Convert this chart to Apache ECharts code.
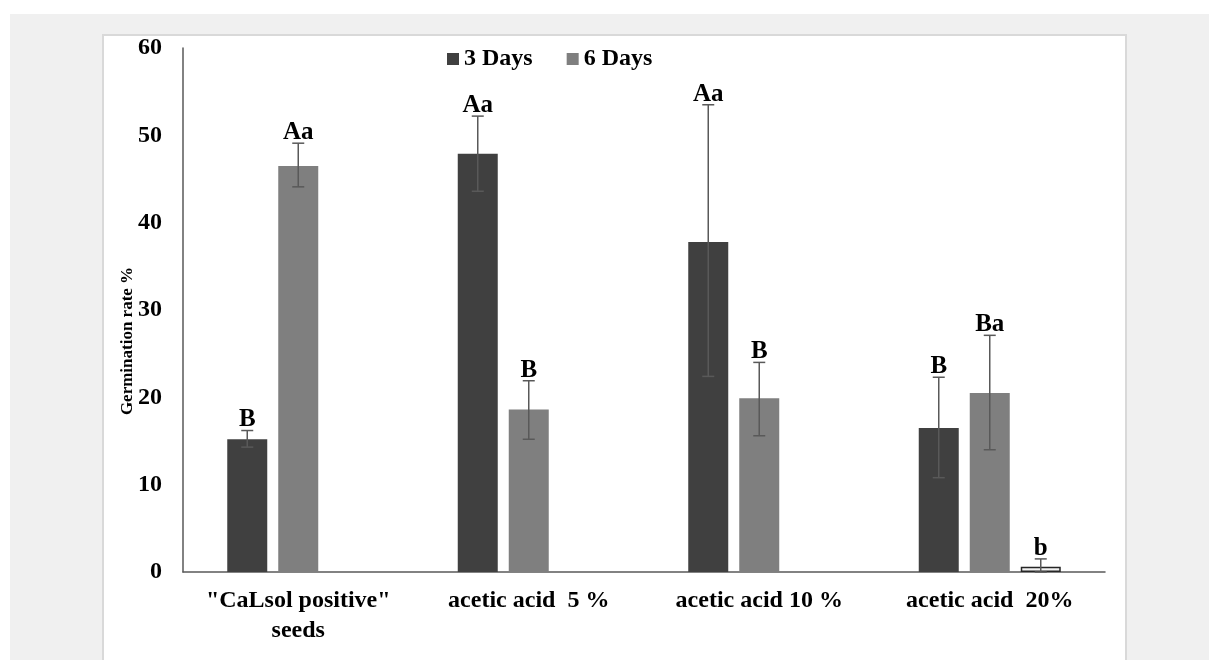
<!DOCTYPE html>
<html>
<head>
<meta charset="utf-8">
<script src="https://cdn.jsdelivr.net/npm/echarts@6/dist/echarts.min.js"></script>
<style>
  html, body { margin: 0; padding: 0; background: #fff; }
  #chart { width: 1209px; height: 660px; }
</style>
</head>
<body>
<div id="chart"></div>
<script>
// categories and values
const categories = ['"CaLsol positive"\nseeds', 'acetic acid  5 %', 'acetic acid 10 %', 'acetic acid  20%'];

const days3 = [15.2, 47.9, 37.8, 16.5];
const days3Low = [14.3, 43.6, 22.4, 10.8];
const days3High = [16.2, 52.2, 53.5, 22.3];
const days3Letters = ['B', 'Aa', 'Aa', 'B'];

const days6 = [46.5, 18.6, 19.9, 20.5];
const days6Low = [44.1, 15.2, 15.6, 14.0];
const days6High = [49.1, 21.9, 24.0, 27.1];
const days6Letters = ['Aa', 'B', 'B', 'Ba'];

// third (unnamed) series, only in the last group
const extra = [null, null, null, 0.6];
const extraLow = [null, null, null, 0];
const extraHigh = [null, null, null, 1.5];
const extraLetters = ['', '', '', 'b'];

const yMin = 0, yMax = 60, yStep = 10;

const FONT = 'Liberation Serif';
const BAR_W = 40, BAR_GAP = 11;

function errData(low, high) {
  const out = [];
  low.forEach((v, i) => {
    if (v !== null) out.push([i, v, high[i]]);
  });
  return out;
}

// error bars + significance letters, k = position of bar in the group
function errSeries(k, low, high, letters) {
  return {
    type: 'custom',
    silent: true,
    z: 5,
    data: errData(low, high),
    renderItem: function (params, api) {
      const ci = api.value(0);
      const lo = api.coord([ci, api.value(1)]);
      const hi = api.coord([ci, api.value(2)]);
      const x = lo[0] + (k - 1) * (BAR_W + BAR_GAP);
      const st = { stroke: '#595959', lineWidth: 1.5 };
      return {
        type: 'group',
        children: [
          { type: 'line', shape: { x1: x, y1: lo[1], x2: x, y2: hi[1] }, style: st },
          { type: 'line', shape: { x1: x - 6, y1: hi[1], x2: x + 6, y2: hi[1] }, style: st },
          { type: 'line', shape: { x1: x - 6, y1: lo[1], x2: x + 6, y2: lo[1] }, style: st },
          {
            type: 'text',
            style: {
              text: letters[ci], x: x, y: hi[1] + 2,
              align: 'center', verticalAlign: 'bottom',
              fontFamily: FONT, fontWeight: 'bold', fontSize: 25, fill: '#000'
            }
          }
        ]
      };
    }
  };
}

const chart = echarts.init(document.getElementById('chart'));

chart.setOption({
  animation: false,
  graphic: [
    { type: 'rect', z: -100, silent: true, shape: { x: 10, y: 14, width: 1199, height: 646 }, style: { fill: '#f0f0f0' } },
    { type: 'rect', z: -99, silent: true, shape: { x: 103, y: 35, width: 1023, height: 640 }, style: { fill: '#fff', stroke: '#d9d9d9', lineWidth: 2 } }
  ],
  grid: {
    left: 183,
    right: 1209 - 1105,
    top: 48,
    bottom: 660 - 572
  },
  legend: {
    data: ['3 Days', '6 Days'],
    left: 442,
    top: 42,
    icon: 'rect',
    itemWidth: 12,
    itemHeight: 12,
    itemGap: 34,
    textStyle: { fontFamily: FONT, fontWeight: 'bold', fontSize: 24, color: '#000' }
  },
  xAxis: {
    type: 'category',
    data: categories,
    axisLine: { lineStyle: { color: '#595959', width: 1.5 } },
    axisTick: { show: false },
    axisLabel: {
      interval: 0,
      hideOverlap: false,
      margin: 14,
      lineHeight: 30,
      fontFamily: FONT, fontWeight: 'bold', fontSize: 24, color: '#000'
    }
  },
  yAxis: {
    type: 'value',
    min: yMin,
    max: yMax,
    interval: yStep,
    name: 'Germination rate %',
    nameLocation: 'middle',
    nameRotate: 90,
    nameGap: 47,
    nameMoveOverlap: false,
    nameTextStyle: {
      fontFamily: FONT, fontWeight: 'bold', fontSize: 17, color: '#000',
      padding: [0, 62, 0, 0]
    },
    splitLine: { show: false },
    axisTick: { show: false },
    axisLine: { show: true, lineStyle: { color: '#595959', width: 1.5 } },
    axisLabel: {
      margin: 21,
      fontFamily: FONT, fontWeight: 'bold', fontSize: 24, color: '#000'
    }
  },
  series: [
    {
      name: '3 Days', type: 'bar', data: days3,
      barWidth: BAR_W, barGap: (BAR_GAP / BAR_W * 100) + '%',
      itemStyle: { color: '#404040' }
    },
    {
      name: '6 Days', type: 'bar', data: days6,
      barWidth: BAR_W,
      itemStyle: { color: '#7f7f7f' }
    },
    {
      name: 'extra', type: 'bar', data: extra,
      barWidth: BAR_W,
      itemStyle: { color: '#f2f2f2', borderColor: '#262626', borderWidth: 1.5 }
    },
    errSeries(0, days3Low, days3High, days3Letters),
    errSeries(1, days6Low, days6High, days6Letters),
    errSeries(2, extraLow, extraHigh, extraLetters)
  ]
});
</script>
</body>
</html>
